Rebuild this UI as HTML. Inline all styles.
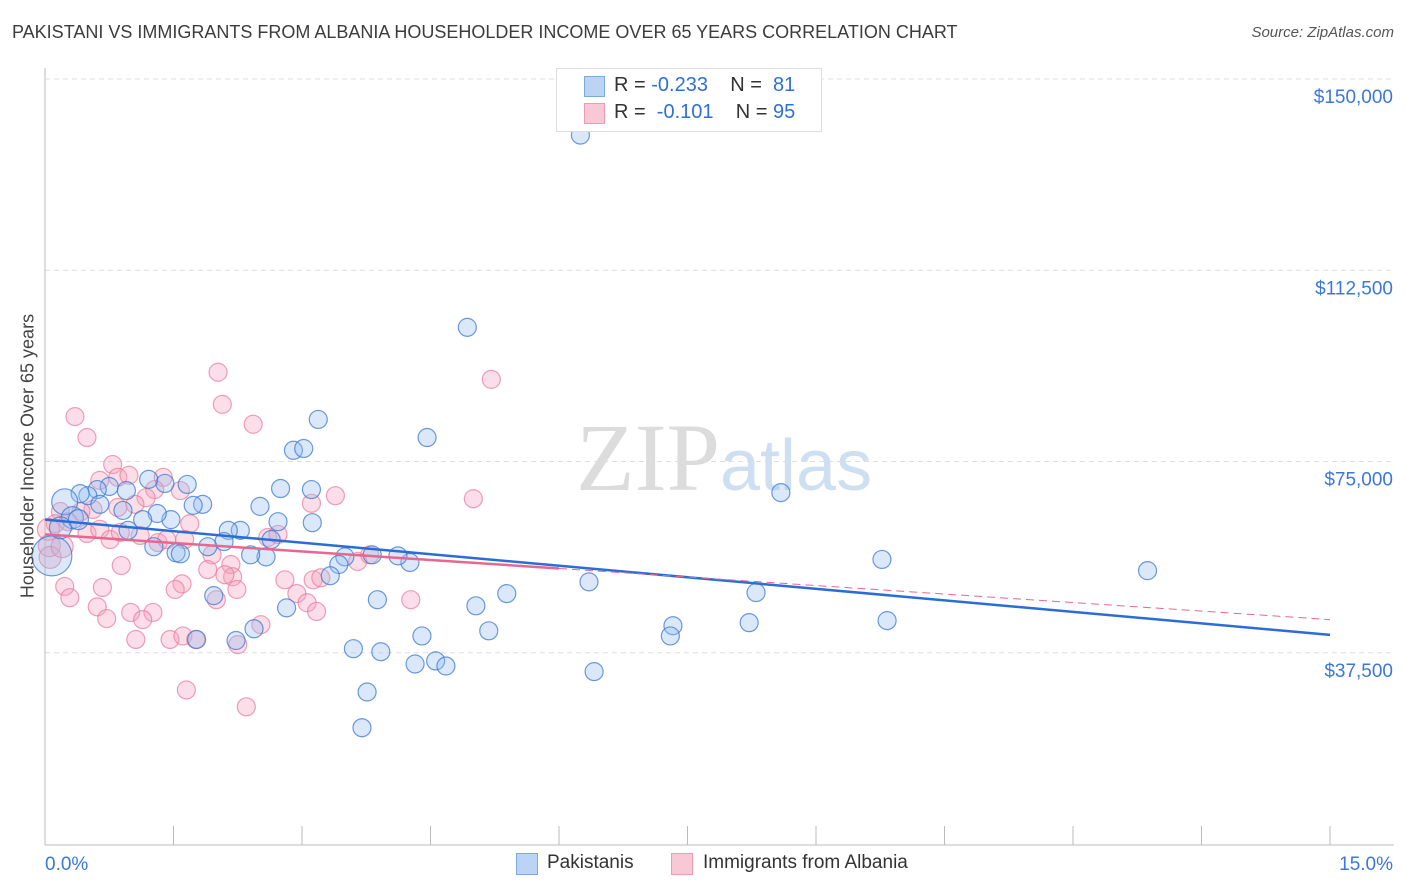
<!DOCTYPE html>
<html><head><meta charset="utf-8"><style>
body{margin:0;background:#fff;font-family:"Liberation Sans",sans-serif;}
#wrap{position:relative;width:1406px;height:892px;overflow:hidden}
.t{position:absolute;white-space:nowrap}
</style></head><body>
<div id="wrap">
<div class="t" style="left:12px;top:22px;font-size:18px;color:#3c3c3c">PAKISTANI VS IMMIGRANTS FROM ALBANIA HOUSEHOLDER INCOME OVER 65 YEARS CORRELATION CHART</div>
<div class="t" style="right:12px;top:24px;font-size:15px;color:#555;font-style:italic">Source: ZipAtlas.com</div>
<svg id="svg" width="1406" height="892" style="position:absolute;left:0;top:0">
<text x="720" y="490" text-anchor="end" font-family="Liberation Serif" font-size="96" fill="#dcdcdc">ZIP</text>
<text x="720" y="490" font-family="Liberation Sans" font-size="72" fill="#cfdff2">atlas</text>
</svg>
<div class="t" style="left:28px;top:456px;font-size:18px;color:#444;transform:translate(-50%,-50%) rotate(-90deg);">Householder Income Over 65 years</div>
<div style="position:absolute;left:556px;top:68px;width:264px;height:62px;border:1px solid #ddd;background:#fff"></div>
<div style="position:absolute;left:584px;top:76px;width:19px;height:19px;background:#bcd4f4;border:1px solid #7fa8e0"></div>
<div style="position:absolute;left:584px;top:103px;width:19px;height:19px;background:#f9c8d6;border:1px solid #ee9ab2"></div>
<div class="t" style="left:614px;top:74px;font-size:20px;color:#333">R = <span style="color:#2f6fd6">-0.233</span>&nbsp;&nbsp;&nbsp; N = &nbsp;<span style="color:#2f6fd6">81</span></div>
<div class="t" style="left:614px;top:101px;font-size:20px;color:#333">R = &nbsp;<span style="color:#2f6fd6">-0.101</span>&nbsp;&nbsp;&nbsp; N = <span style="color:#2f6fd6">95</span></div>
<div style="position:absolute;left:516px;top:853px;width:20px;height:20px;background:#bcd4f4;border:1px solid #7fa8e0"></div>
<div class="t" style="left:547px;top:852px;font-size:19px;color:#333">Pakistanis</div>
<div style="position:absolute;left:671px;top:853px;width:20px;height:20px;background:#f9c8d6;border:1px solid #ee9ab2"></div>
<div class="t" style="left:703px;top:852px;font-size:19px;color:#333">Immigrants from Albania</div>
</div>
<script>
const yTicks=[37500,75000,112500,150000];
const yTickLabels=["$37,500","$75,000","$112,500","$150,000"];
const xTickLabels=["0.0%","15.0%"];
const blueX=[6.25,4.93,3.19,4.46,2.90,3.02,8.59,9.77,12.87,6.35,8.30,9.83,8.22,7.33,7.30,6.41,5.39,5.03,5.18,4.40,3.88,3.60,3.92,4.32,4.56,4.68,3.76,3.70,4.26,4.12,3.82,3.50,3.43,3.33,3.12,3.11,2.75,2.72,2.64,2.58,2.40,2.51,2.28,2.14,2.09,1.90,1.97,2.23,2.44,1.77,2.82,1.84,1.73,1.66,1.40,1.21,1.47,1.31,1.27,1.53,1.58,1.14,0.91,0.75,0.95,0.97,0.61,0.50,0.41,0.64,0.23,0.32,0.08,0.18,0.39];
const blueY=[139000,101300,83250,79700,77200,77550,68900,55800,53600,51400,49300,43800,43400,42800,40800,33800,49100,46700,41800,40800,47900,38300,37700,35300,35900,34900,29800,22800,55200,56500,56700,56300,54800,52600,63000,69500,69700,63200,59700,56300,56700,66200,61500,61500,59300,58300,48700,39900,42200,40100,46300,66600,66400,70500,70700,71500,63600,64800,58300,57100,56900,63600,65400,70100,69300,61500,69500,68300,68700,66600,67100,64000,56500,62000,63600];
const blueR=[9,9,9,9,9,9,9,9,9,9,9,9,9,9,9,9,9,9,9,9,9,9,9,9,9,9,9,9,9,9,9,9,9,9,9,9,9,9,9,9,9,9,9,9,9,9,9,9,9,9,9,9,9,9,9,9,9,9,9,9,9,9,9,9,9,9,9,9,9,9,13,11,20,11,10];
const pinkX=[5.21,2.02,2.07,2.43,0.35,0.49,5.00,3.39,3.11,0.79,0.85,0.98,0.64,1.38,1.28,1.58,1.18,1.05,0.85,0.56,0.42,0.18,0.12,0.27,0.49,0.64,0.76,0.88,1.11,1.32,1.42,1.69,1.63,1.95,2.17,2.60,2.72,2.19,2.10,1.90,1.60,1.52,2.24,2.00,0.89,0.23,0.29,0.67,0.61,0.72,1.00,1.26,1.14,1.06,1.46,1.61,1.76,1.65,2.25,2.35,2.52,2.94,2.80,3.06,3.17,3.13,3.22,3.65,3.79,4.27,0.05,0.06,0.04,0.20];
const pinkY=[91100,92500,86200,82300,83800,79700,67700,68300,66800,74400,71900,72300,71300,71900,69500,69300,67900,66600,66000,65600,65200,65200,62800,63200,60900,61700,59700,61100,60500,59100,59700,62800,59700,56700,54800,60100,60700,52400,52800,53800,51000,49900,49900,47900,54600,50500,48300,50300,46500,44200,45400,45400,44000,40100,40100,40800,40100,30200,39100,26900,43000,49100,51800,47300,45600,51800,52200,55400,56700,47900,58500,56200,61700,58300];
const blueTrend=[63600,41000];
const pinkTrend=[60700,44000];
const pinkSolidEnd=6.0;
const X0=45,X1=1330,Y0=844,Y150=79;
const xs=v=>X0+(v/15)*(X1-X0);
const ys=v=>Y0-(v/150000)*(Y0-Y150);
const svg=document.getElementById('svg');
const NS='http://www.w3.org/2000/svg';
function mk(tag,attrs){const e=document.createElementNS(NS,tag);for(const k in attrs)e.setAttribute(k,attrs[k]);svg.appendChild(e);return e;}
yTicks.forEach((v,i)=>{
 const g=mk('line',{x1:X0,x2:1394,y1:ys(v),y2:ys(v),stroke:'#ddd','stroke-dasharray':'5,4'});
 
 
 const t=mk('text',{x:1393,y:ys(v)+24,'text-anchor':'end','font-size':19,fill:'#3b78d8','font-family':'Liberation Sans'});
 t.textContent=yTickLabels[i];
 
 
});
const ya=mk('line',{x1:X0,x2:X0,y1:68,y2:Y0+1,stroke:'#bbb'});


const xa=mk('line',{x1:X0,x2:1394,y1:Y0+1,y2:Y0+1,stroke:'#bbb'});


for(let i=0;i<=10;i++){const tk=mk('line',{x1:xs(i*1.5),x2:xs(i*1.5),y1:Y0-18,y2:Y0+1,stroke:'#bbb'});
 
 }
const xl0=mk('text',{x:45,y:870,'font-size':19,fill:'#3b78d8','font-family':'Liberation Sans'});xl0.textContent=xTickLabels[0];


const xl1=mk('text',{x:1393,y:870,'text-anchor':'end','font-size':19,fill:'#3b78d8','font-family':'Liberation Sans'});xl1.textContent=xTickLabels[1];


pinkX.forEach((x,i)=>{const c=mk('circle',{cx:xs(x),cy:ys(pinkY[i]),r:i>=70?11:9,fill:'rgba(244,160,185,0.35)',stroke:'rgba(234,120,155,0.7)','stroke-width':1.2});
 
 });
blueX.forEach((x,i)=>{const c=mk('circle',{cx:xs(x),cy:ys(blueY[i]),r:blueR[i],fill:'rgba(150,190,240,0.35)',stroke:'rgba(60,120,210,0.75)','stroke-width':1.2});
 
 });
const bl=mk('line',{x1:xs(0),y1:ys(blueTrend[0]),x2:xs(15),y2:ys(blueTrend[1]),stroke:'#2b6dd6','stroke-width':2.5});


const pm=pinkTrend[0]+(pinkTrend[1]-pinkTrend[0])*pinkSolidEnd/15;
const pl=mk('line',{x1:xs(0),y1:ys(pinkTrend[0]),x2:xs(pinkSolidEnd),y2:ys(pm),stroke:'#e8678f','stroke-width':2.5});


const pd=mk('line',{x1:xs(pinkSolidEnd),y1:ys(pm),x2:xs(15),y2:ys(pinkTrend[1]),stroke:'#e8678f','stroke-width':1,'stroke-dasharray':'8,5'});


const topGrid=mk('line',{x1:X0,x2:1394,y1:ys(150000),y2:ys(150000),stroke:'#ddd','stroke-dasharray':'5,4'});


</script>
</body></html>
